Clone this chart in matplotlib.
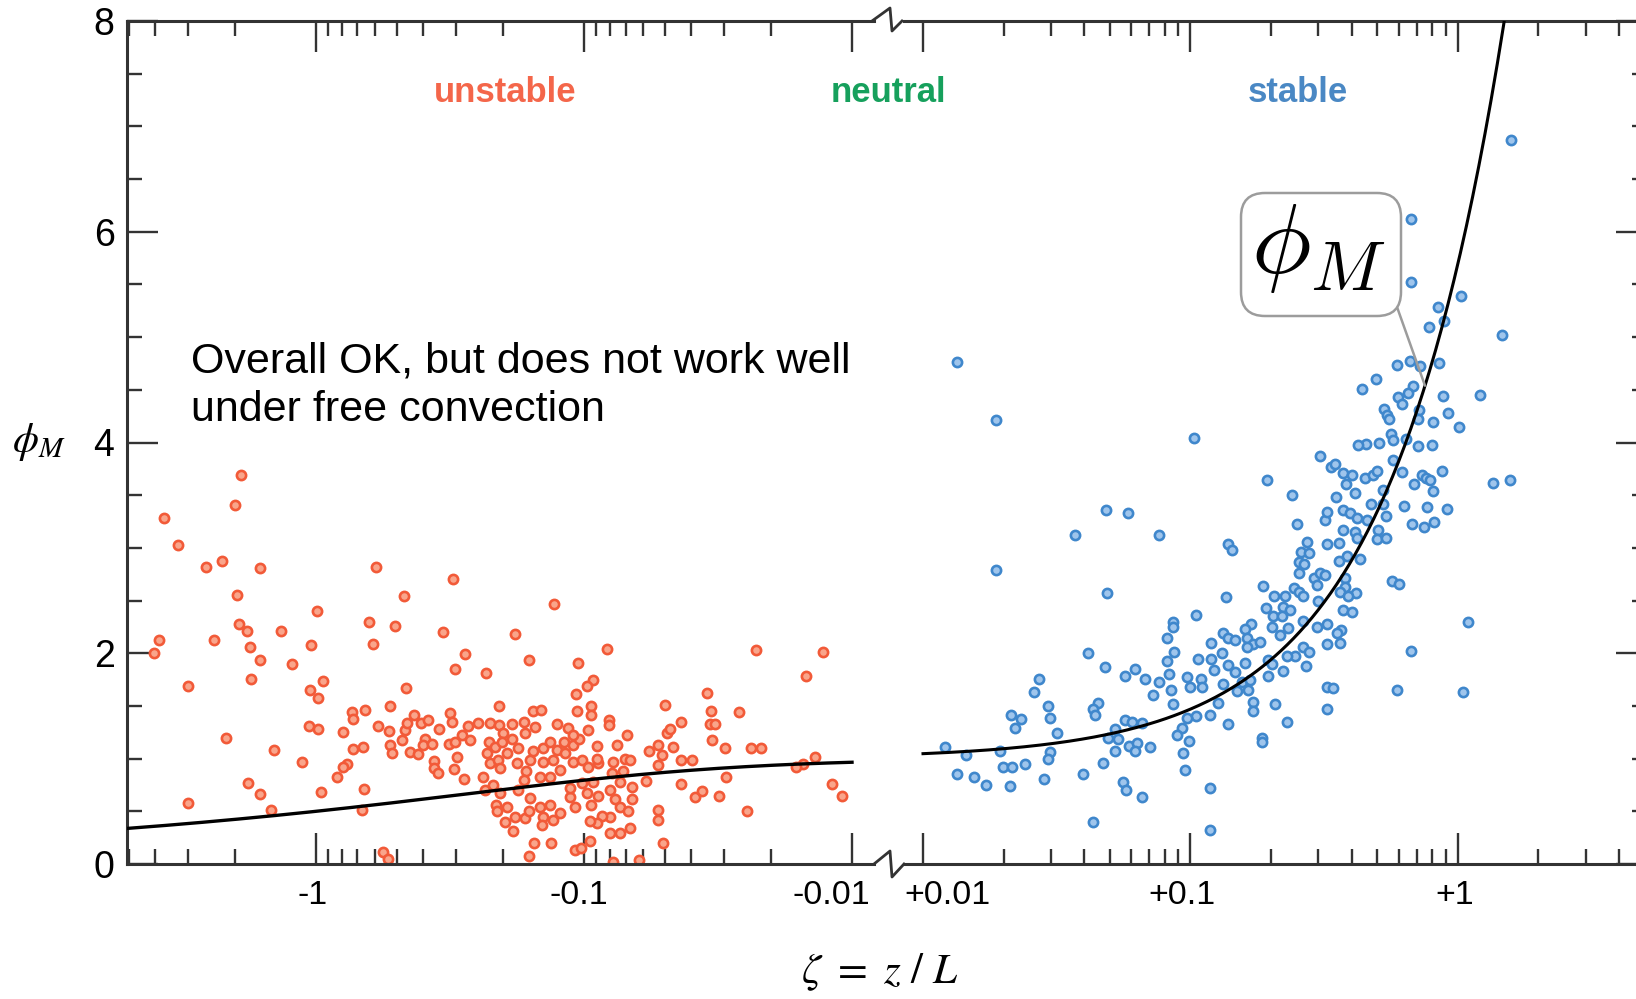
import numpy as np
import matplotlib
matplotlib.use("Agg")
import matplotlib.pyplot as plt
from matplotlib.patches import FancyBboxPatch
from matplotlib.lines import Line2D
from matplotlib.ticker import FixedLocator, MultipleLocator, NullFormatter

plt.rcParams["font.family"] = ["Liberation Sans", "DejaVu Sans"]
plt.rcParams["mathtext.fontset"] = "stix"

# ─────────────────────────────────────────────
#  Data  (zeta = z/L, phi_M)
# ─────────────────────────────────────────────
unstable_zeta = [
    -1.90, -2.0, -3.68, -3.27, -2.57, -2.25, -1.62, -1.97, -0.99, -1.93,
    -1.81, -1.35, -3.84, -2.40, -4.03, -1.77, -1.04, -1.62, -1.23, -1.74,
    -0.94, -3.0, -1.05, -0.98, -1.06, -0.98, -2.16, -1.44, -1.13, -1.80,
    -1.62, -3.0, -0.96, -1.47,
    -0.599, -0.309, -0.468, -0.632, -0.508, -0.615, -0.336, -0.181, -0.279, -0.302,
    -0.232, -0.460, -0.736, -0.726, -0.657, -0.528, -0.589, -0.535, -0.790, -0.730,
    -0.665, -0.764, -0.795, -0.832, -0.661, -0.676, -0.528, -0.520, -0.479, -0.466,
    -0.456, -0.430, -0.446, -0.418, -0.405, -0.381, -0.391, -0.399, -0.370, -0.347,
    -0.362, -0.362, -0.351, -0.317, -0.310, -0.319, -0.304, -0.297, -0.306, -0.280,
    -0.284, -0.270, -0.266, -0.249, -0.225, -0.207, -0.207, -0.186, -0.227, -0.238,
    -0.234, -0.563, -0.539, -0.231, -0.225, -0.215, -0.209, -0.206, -0.201, -0.218,
    -0.206, -0.213, -0.212, -0.194, -0.197, -0.203, -0.194,
    -0.129, -0.160, -0.0818, -0.105, -0.0927, -0.0976, -0.107, -0.0942, -0.0944, -0.106,
    -0.155, -0.145, -0.0499, -0.0809, -0.0805, -0.0433, -0.0491, -0.0477, -0.0464, -0.0528,
    -0.0571, -0.0513, -0.0528, -0.0433, -0.0394, -0.0588, -0.0435, -0.0385, -0.0528, -0.0531,
    -0.0508, -0.0778, -0.0621, -0.126, -0.115, -0.0964, -0.0693, -0.0752, -0.0897, -0.0778,
    -0.0703, -0.0673, -0.0713, -0.0788, -0.0734, -0.0664, -0.080, -0.0766, -0.0734, -0.0664,
    -0.0683, -0.080, -0.0859, -0.0897, -0.095, -0.0734, -0.080, -0.0673, -0.095, -0.108,
    -0.103, -0.133, -0.153, -0.161, -0.184, -0.181, -0.166, -0.161, -0.142, -0.144,
    -0.130, -0.123, -0.146, -0.134, -0.108, -0.0938, -0.113, -0.0885, -0.0977, -0.159,
    -0.176, -0.113, -0.102, -0.0922, -0.146, -0.134, -0.123, -0.164, -0.178, -0.159,
    -0.142, -0.130, -0.110, -0.102, -0.0964, -0.0885, -0.176, -0.155, -0.142, -0.134,
    -0.119, -0.110, -0.104, -0.186, -0.166, -0.168, -0.152, -0.110,
    -0.126, -0.118, -0.168, -0.0897,
    -0.0229, -0.0128, -0.0148, -0.0348, -0.0336, -0.034, -0.0324, -0.0263, -0.0332, -0.0299,
    -0.0238, -0.0219, -0.0294, -0.0138, -0.0152, -0.0162, -0.0119, -0.0109, -0.0362, -0.0313,
    -0.0246,
]
unstable_phi = [
    3.69, 3.41, 3.28, 3.03, 2.82, 2.88, 2.81, 2.55, 2.40, 2.28,
    2.21, 2.21, 2.13, 2.13, 2.00, 2.06, 2.08, 1.94, 1.90, 1.76,
    1.74, 1.69, 1.65, 1.58, 1.31, 1.28, 1.20, 1.08, 0.97, 0.77,
    0.66, 0.58, 0.68, 0.51,
    2.82, 2.70, 2.54, 2.30, 2.26, 2.09, 2.20, 2.18, 1.99, 1.85,
    1.81, 1.67, 1.44, 1.38, 1.46, 1.50, 1.31, 1.26, 1.25, 1.09,
    1.11, 0.95, 0.92, 0.83, 0.71, 0.51, 1.13, 1.05, 1.18, 1.27,
    1.34, 1.41, 1.06, 1.04, 1.34, 1.37, 1.19, 1.13, 1.14, 1.28,
    0.98, 0.91, 0.86, 1.43, 1.35, 1.14, 1.16, 1.02, 0.90, 0.81,
    1.22, 1.31, 1.18, 1.34, 1.34, 1.50, 1.32, 1.33, 1.16, 0.83,
    0.70, 0.11, 0.05, 1.05, 0.96, 1.11, 0.99, 0.91, 1.24, 0.75,
    0.67, 0.56, 0.50, 0.54, 0.40, 1.16, 1.05,
    2.47, 1.94, 2.04, 1.91, 1.75, 1.69, 1.61, 1.50, 1.41, 1.45,
    1.45, 1.46, 1.51, 1.37, 1.32, 1.35, 1.24, 1.28, 1.11, 1.13,
    1.07, 1.03, 0.94, 0.99, 0.99, 0.79, 0.76, 0.64, 0.51, 0.42,
    0.20, 0.02, 0.04, 1.33, 1.29, 1.27, 1.22, 1.13, 1.12, 0.97,
    1.00, 0.99, 0.88, 0.86, 0.78, 0.73, 0.70, 0.62, 0.54, 0.62,
    0.50, 0.45, 0.46, 0.39, 0.41, 0.29, 0.29, 0.34, 0.22, 0.13,
    0.15, 0.20, 0.20, 0.08, 0.31, 0.45, 0.44, 0.50, 0.45, 0.37,
    0.42, 0.48, 0.54, 0.56, 0.54, 0.56, 0.64, 0.65, 0.67, 0.63,
    0.70, 0.72, 0.77, 0.78, 0.83, 0.83, 0.89, 0.88, 0.96, 0.99,
    0.97, 0.99, 0.97, 0.99, 0.92, 0.96, 1.10, 1.07, 1.10, 1.16,
    1.16, 1.13, 1.19, 1.19, 1.24, 1.35, 1.30, 1.22,
    1.08, 1.05, 0.80, 1.00,
    2.03, 2.01, 1.78, 1.62, 1.45, 1.33, 1.33, 1.44, 1.18, 1.10,
    1.10, 1.10, 0.83, 1.02, 0.95, 0.92, 0.76, 0.65, 0.69, 0.65,
    0.50,
]

stable_zeta = [
    0.0134, 0.0187, 0.0187, 0.0482, 0.0582, 0.0370, 0.0489, 0.0764, 0.0415, 0.0479,
    0.0272, 0.0261, 0.0571, 0.0620, 0.0676, 0.0722, 0.0764, 0.0213, 0.0233, 0.0221,
    0.0294, 0.0299, 0.0316, 0.0452, 0.0433, 0.0440, 0.0569, 0.0603, 0.0657, 0.0521,
    0.0493, 0.0537, 0.0588, 0.0629, 0.0622, 0.0707, 0.0521, 0.0121, 0.0145, 0.0194,
    0.0134, 0.0155, 0.0172, 0.0199, 0.0215, 0.0211, 0.0241, 0.0299, 0.0293, 0.0284,
    0.0398, 0.0469, 0.0558, 0.0574, 0.0657, 0.0433,
    0.193, 0.239, 0.251, 0.138, 0.143, 0.272, 0.260, 0.278, 0.254, 0.266,
    0.254, 0.318, 0.323, 0.325, 0.289, 0.306, 0.318, 0.296, 0.301, 0.244,
    0.255, 0.264, 0.187, 0.136, 0.205, 0.225, 0.192, 0.222, 0.235, 0.204,
    0.219, 0.105, 0.0858, 0.0862, 0.0815, 0.169, 0.160, 0.132, 0.138, 0.147,
    0.162, 0.172, 0.182, 0.162, 0.201, 0.216, 0.232, 0.264, 0.296, 0.323,
    0.264, 0.278, 0.245, 0.229, 0.323, 0.270, 0.119, 0.131, 0.119, 0.107,
    0.0871, 0.0815, 0.0834, 0.0968, 0.100, 0.109, 0.110, 0.122, 0.138, 0.147,
    0.160, 0.132, 0.156, 0.167, 0.149, 0.164, 0.172, 0.172, 0.195, 0.201,
    0.195, 0.221, 0.207, 0.229, 0.323, 0.323, 0.0858, 0.0849, 0.127, 0.118,
    0.105, 0.0968, 0.138, 0.0926, 0.0893, 0.0988, 0.0935, 0.0954, 0.118, 0.118,
    0.185, 0.185,
    0.839, 0.887, 0.782, 0.590, 0.662, 0.721, 0.852, 0.492, 0.436, 0.681,
    0.652, 0.598, 0.616, 0.877, 1.21, 0.920, 1.01, 0.529, 0.544, 0.554,
    0.717, 0.711, 0.809, 0.560, 0.573, 0.639, 0.508, 0.452, 0.424, 0.711,
    0.802, 0.305, 0.334, 0.347, 0.570, 0.616, 0.869, 0.373, 0.400, 0.449,
    0.480, 0.497, 0.383, 0.685, 0.731, 0.759, 0.785, 0.809, 0.523, 0.412,
    0.350, 0.472, 0.526, 0.628, 0.768, 0.908, 0.373, 0.394, 0.421, 0.456,
    0.538, 0.671, 0.748, 0.816, 0.504, 0.497, 0.538, 0.412, 0.418, 0.373,
    0.360, 0.430, 0.384, 0.360, 0.565, 0.604, 0.378, 0.378, 0.362, 0.416,
    0.389, 0.373, 0.400, 0.364, 0.352, 0.362, 1.09, 0.667, 0.593, 1.04,
    0.342,
    1.58, 1.03, 1.46, 1.35, 1.56, 0.670, 0.670, 0.1035,
]
stable_phi = [
    4.76, 4.21, 2.79, 3.36, 3.33, 3.12, 2.57, 3.12, 2.00, 1.87,
    1.76, 1.63, 1.78, 1.85, 1.76, 1.60, 1.73, 1.41, 1.38, 1.29,
    1.50, 1.39, 1.24, 1.53, 1.47, 1.41, 1.37, 1.35, 1.34, 1.28,
    1.20, 1.19, 1.12, 1.15, 1.07, 1.11, 1.07, 1.11, 1.03, 1.07,
    0.85, 0.83, 0.75, 0.92, 0.92, 0.74, 0.95, 1.06, 1.00, 0.81,
    0.85, 0.96, 0.78, 0.70, 0.64, 0.40,
    3.64, 3.50, 3.23, 3.04, 2.98, 3.06, 2.96, 2.95, 2.87, 2.85,
    2.76, 3.26, 3.34, 3.04, 2.71, 2.76, 2.74, 2.65, 2.50, 2.62,
    2.58, 2.54, 2.64, 2.53, 2.54, 2.54, 2.43, 2.44, 2.41, 2.35,
    2.35, 2.36, 2.30, 2.25, 2.14, 2.28, 2.23, 2.19, 2.14, 2.13,
    2.14, 2.09, 2.11, 2.06, 2.25, 2.17, 2.24, 2.31, 2.25, 2.28,
    2.06, 2.01, 1.97, 1.97, 2.09, 1.88, 2.10, 2.00, 1.95, 1.95,
    2.01, 1.93, 1.80, 1.77, 1.68, 1.76, 1.68, 1.84, 1.89, 1.82,
    1.91, 1.71, 1.73, 1.75, 1.64, 1.65, 1.54, 1.45, 1.94, 1.90,
    1.78, 1.83, 1.52, 1.35, 1.68, 1.47, 1.52, 1.65, 1.53, 1.41,
    1.40, 1.39, 1.33, 1.29, 1.22, 1.17, 1.05, 0.89, 0.72, 0.32,
    1.20, 1.16,
    5.29, 5.15, 5.10, 4.74, 4.77, 4.73, 4.75, 4.60, 4.51, 4.54,
    4.47, 4.43, 4.37, 4.44, 4.45, 4.28, 4.15, 4.32, 4.26, 4.22,
    4.31, 4.22, 4.19, 4.08, 4.02, 4.03, 4.00, 3.99, 3.98, 3.97,
    3.98, 3.87, 3.77, 3.80, 3.83, 3.72, 3.73, 3.71, 3.69, 3.66,
    3.69, 3.73, 3.61, 3.61, 3.69, 3.66, 3.64, 3.54, 3.55, 3.52,
    3.48, 3.42, 3.42, 3.40, 3.39, 3.37, 3.36, 3.33, 3.28, 3.26,
    3.30, 3.23, 3.20, 3.25, 3.17, 3.08, 3.09, 3.15, 3.09, 3.17,
    3.05, 2.89, 2.92, 2.88, 2.69, 2.66, 2.71, 2.63, 2.58, 2.57,
    2.54, 2.41, 2.39, 2.22, 2.19, 2.10, 2.30, 2.02, 1.65, 1.63,
    1.67,
    6.87, 5.39, 5.02, 3.62, 3.64, 6.12, 5.52, 4.04,
]

# Businger-Dyer reference curves
BD_GAMMA = 15.0   # unstable:  phi = (1 - gamma*zeta)^(-1/4)
BD_BETA  = 4.7    # stable:    phi = 1 + beta*zeta

left_ticks   = [1, 0.1, 0.01]
left_labels  = ["-1", "-0.1", "-0.01"]
right_ticks  = [0.01, 0.1, 1]
right_labels = ["+0.01", "+0.1", "+1"]
regime_labels = ["unstable", "neutral", "stable"]

# ─────────────────────────────────────────────
#  Layout helpers (reference pixels -> figure)
# ─────────────────────────────────────────────
W, H = 1636, 999
def fx(x): return x / W
def fy(y): return 1 - y / H

RED_EDGE, RED_FACE   = "#f25a38", "#f9a58b"
BLUE_EDGE, BLUE_FACE = "#3f87cc", "#9fc5ec"
AX_COL = "#333333"

fig = plt.figure(figsize=(W / 100, H / 100), dpi=100, facecolor="white")

Y0, Y8 = 864, 21
ax_l = fig.add_axes([fx(127), fy(Y0), fx(874) - fx(127), (Y0 - Y8) / H])
ax_r = fig.add_axes([fx(904), fy(Y0), fx(1647) - fx(904), (Y0 - Y8) / H])

# ── curves ──
zu = -np.logspace(np.log10(5.07), -2, 300)
zs = np.logspace(-2, np.log10(2.0), 300)
ax_l.plot(-zu, (1 - BD_GAMMA * zu) ** -0.25, color="black", lw=2.4, zorder=3)
ax_r.plot(zs, 1 + BD_BETA * zs, color="black", lw=2.2, zorder=3)

# ── scatter ──
ax_l.scatter(-np.array(unstable_zeta), unstable_phi, s=44, marker="o",
             facecolor=RED_FACE, edgecolor=RED_EDGE, linewidth=1.9, zorder=2)
ax_r.scatter(stable_zeta, stable_phi, s=44, marker="o",
             facecolor=BLUE_FACE, edgecolor=BLUE_EDGE, linewidth=1.9, zorder=2)

minor_vals = [m * 10.0 ** e for e in (-2, -1, 0) for m in range(2, 10)
              if m * 10.0 ** e <= 5]

for ax in (ax_l, ax_r):
    ax.set_xscale("log")
    ax.set_ylim(0, 8)
    ax.xaxis.set_major_locator(FixedLocator([0.01, 0.1, 1]))
    ax.xaxis.set_minor_locator(FixedLocator(minor_vals))
    ax.xaxis.set_major_formatter(NullFormatter())
    ax.xaxis.set_minor_formatter(NullFormatter())
    ax.yaxis.set_major_locator(MultipleLocator(2))
    ax.yaxis.set_minor_locator(MultipleLocator(0.5))
    ax.tick_params(which="both", direction="in", top=True, bottom=True,
                   color=AX_COL, width=1.7)
    ax.tick_params(which="major", length=22)
    ax.tick_params(which="minor", length=11)
    for sp in ax.spines.values():
        sp.set_color(AX_COL)
        sp.set_linewidth(2.2)
    ax.patch.set_alpha(0)

ax_l.set_xlim(5.07, 0.00828)
ax_r.set_xlim(0.00849, 5.09)

ax_l.spines["right"].set_visible(False)
ax_r.spines["left"].set_visible(False)
ax_l.tick_params(which="both", left=True, right=False, labelleft=True,
                 labelsize=27, pad=9)
ax_r.tick_params(which="both", left=False, right=True, labelleft=False)

# ── x tick labels (number centred on tick, outer ones nudged off the break) ──
for t, lab, dx in zip(left_ticks, left_labels, [-3, -5.5, -21]):
    ax_l.annotate(lab, xy=(t, 0), xycoords=("data", "axes fraction"),
                  xytext=(dx * 0.72, -31 * 0.72), textcoords="offset points",
                  ha="center", va="center", fontsize=24.5)
for t, lab, dx in zip(right_ticks, right_labels, [24, -8.5, -3.5]):
    ax_r.annotate(lab, xy=(t, 0), xycoords=("data", "axes fraction"),
                  xytext=(dx * 0.72, -31 * 0.72), textcoords="offset points",
                  ha="center", va="center", fontsize=24.5)

# ── axis break zig-zags ──
for pts in ([(874, 864), (890, 851), (892, 877), (904, 864)],
            [(872, 21), (890, 8), (892, 31), (902, 21)]):
    xs, ys = zip(*pts)
    fig.add_artist(Line2D([fx(x) for x in xs], [fy(y) for y in ys],
                          transform=fig.transFigure, color=AX_COL, lw=2.0))

# ── regime labels ──
for lab, x, col in zip(regime_labels, [505, 888, 1298],
                       ["#f4664a", "#16a05c", "#4a88c4"]):
    fig.text(fx(x), fy(92), lab, ha="center", va="center", fontsize=25,
             fontweight="bold", color=col)

# ── axis titles ──
fig.text(fx(12), fy(442), r"$\phi_M$", ha="left", va="center", fontsize=30)
fig.text(fx(880), fy(972), r"$\zeta\ =\ z\ /\ L$", ha="center", va="center",
         fontsize=31)

# ── comment ──
fig.text(fx(191), fy(341), "Overall OK, but does not work well\nunder free convection",
         ha="left", va="top", fontsize=31, linespacing=1.3)

# ── callout box ──
bx0, by0, bx1, by1 = 1241, 193, 1401, 316
box = FancyBboxPatch((bx0 / 100, (H - by1) / 100), (bx1 - bx0) / 100, (by1 - by0) / 100,
                     boxstyle="round,pad=0,rounding_size=0.24",
                     transform=fig.dpi_scale_trans, facecolor="white",
                     edgecolor="#9c9c9c", lw=1.8, zorder=5)
fig.add_artist(box)
fig.text(fx(1318), fy(248), r"$\phi_M$", ha="center", va="center",
         fontsize=72, math_fontfamily="cm", zorder=6)
ax_r.annotate("", xy=(0.753, 1 + BD_BETA * 0.753), xycoords="data",
              xytext=(fx(1397), fy(307)), textcoords="figure fraction",
              arrowprops=dict(arrowstyle="-", color="#9c9c9c", lw=1.8,
                              shrinkA=0, shrinkB=0))

fig.savefig("out.png", dpi=100, facecolor="white")
